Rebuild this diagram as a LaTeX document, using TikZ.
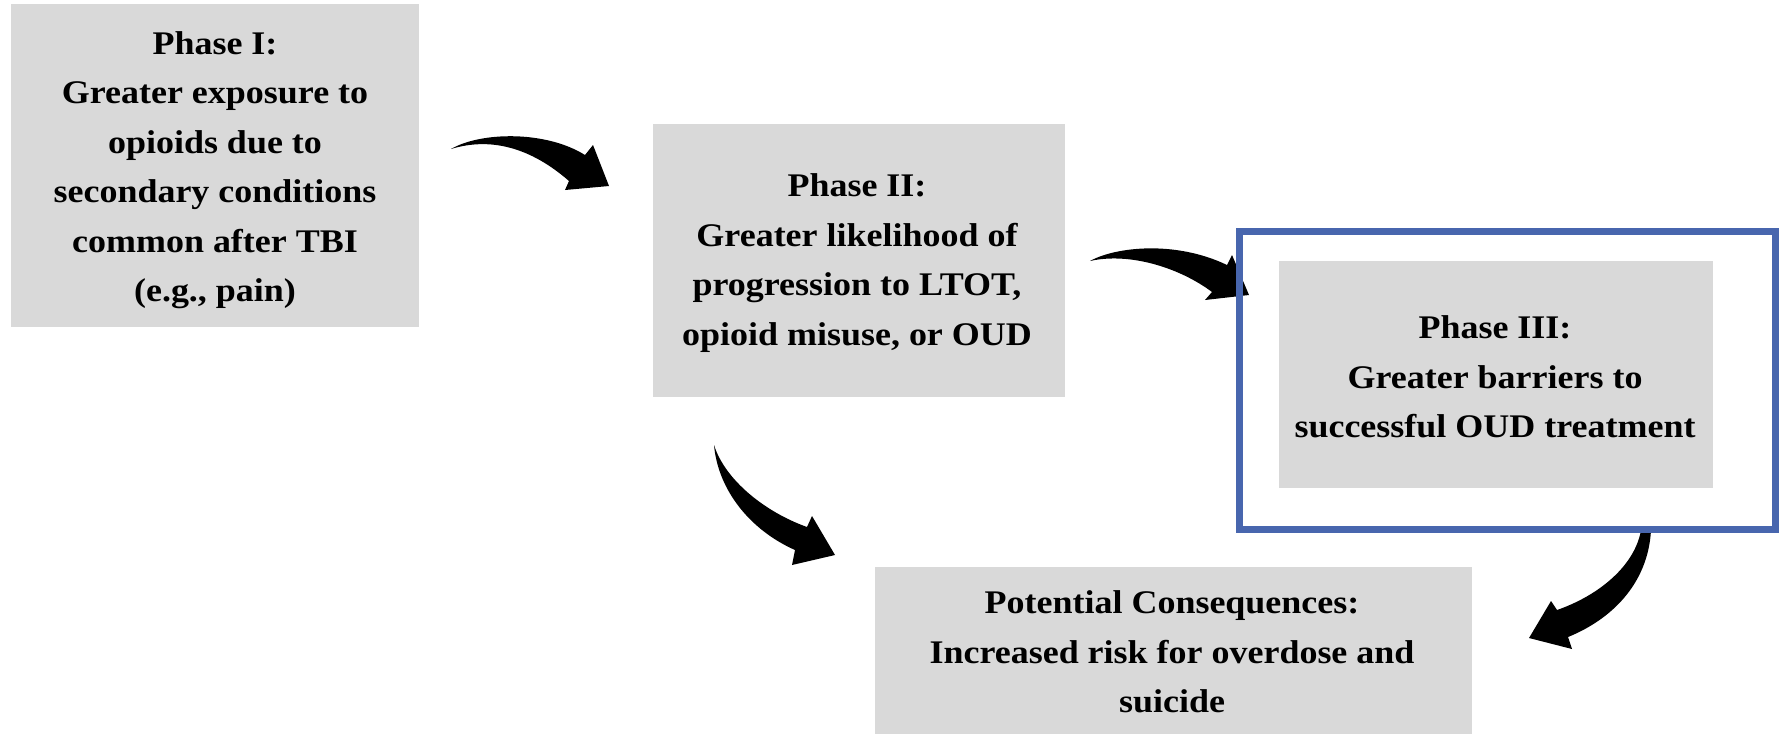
\documentclass[tikz,border=0pt]{standalone}
\usepackage{fontspec}
\setmainfont{Liberation Serif}[FakeStretch=1.09]
\definecolor{boxgray}{HTML}{D9D9D9}
\definecolor{frameblue}{HTML}{4866AE}
\begin{document}
\begin{tikzpicture}[x=0.5pt,y=-0.5pt,
  box/.style={fill=boxgray, draw=none, inner sep=0pt},
  txt/.style={inner sep=0pt, align=center, text=black,
    font=\bfseries\fontsize{16.5}{24.75}\selectfont},
  blockarrow/.style={fill=black, draw=none},
  framebox/.style={draw=frameblue, line width=3.5pt, fill=none, inner sep=0pt}]
\useasboundingbox (0,0) rectangle (1780,734);

% arrows (drawn first so the frame lies on top)
\fill[blockarrow] (451,149) .. controls (480,132) and (545,130) .. (585,155) -- (593,145) -- (609,186) -- (565,190) -- (569,181) .. controls (530,147) and (490,137) .. (451,149) -- cycle;
\fill[blockarrow] (1090,261) .. controls (1115,247) and (1175,240) .. (1227,265) -- (1232,255) -- (1249,295) -- (1205,300) -- (1212,292) .. controls (1180,268) and (1130,252) .. (1090,261) -- cycle;
\fill[blockarrow] (714,445) .. controls (718,490) and (750,530) .. (795,550) -- (792,565) -- (835,555) -- (812,516) -- (807,527) .. controls (765,512) and (725,480) .. (714,445) -- cycle;
\fill[blockarrow] (1651,530) .. controls (1648,585) and (1610,620) .. (1568,637) -- (1572,649) -- (1529,638) -- (1551,601) -- (1557,610) .. controls (1600,595) and (1635,565) .. (1641,530) -- cycle;

% boxes
\node[box, minimum width=204pt, minimum height=161.5pt] (p1box) at (215,165.5) {};
\node[box, minimum width=206pt, minimum height=136.5pt] (p2box) at (859,260.5) {};
\node[box, minimum width=217pt, minimum height=113.5pt] (p3box) at (1496,374.5) {};
\node[framebox, minimum width=268pt, minimum height=148.75pt] (frame) at (1507.5,380.25) {};
\node[box, minimum width=298.5pt, minimum height=83.5pt] (pcbox) at (1173.5,650.5) {};

% texts
\node[txt] (p1) at (215,170)
  {Phase I:\\Greater exposure to\\opioids due to\\secondary conditions\\common after TBI\\(e.g., pain)};
\node[txt] (p2) at (857,263)
  {Phase II:\\Greater likelihood of\\progression to LTOT,\\opioid misuse, or OUD};
\node[txt] (p3) at (1495,377)
  {Phase III:\\Greater barriers to\\successful OUD treatment};
\node[txt] (pc) at (1172,652)
  {Potential Consequences:\\Increased risk for overdose and\\suicide};
\end{tikzpicture}
\end{document}
